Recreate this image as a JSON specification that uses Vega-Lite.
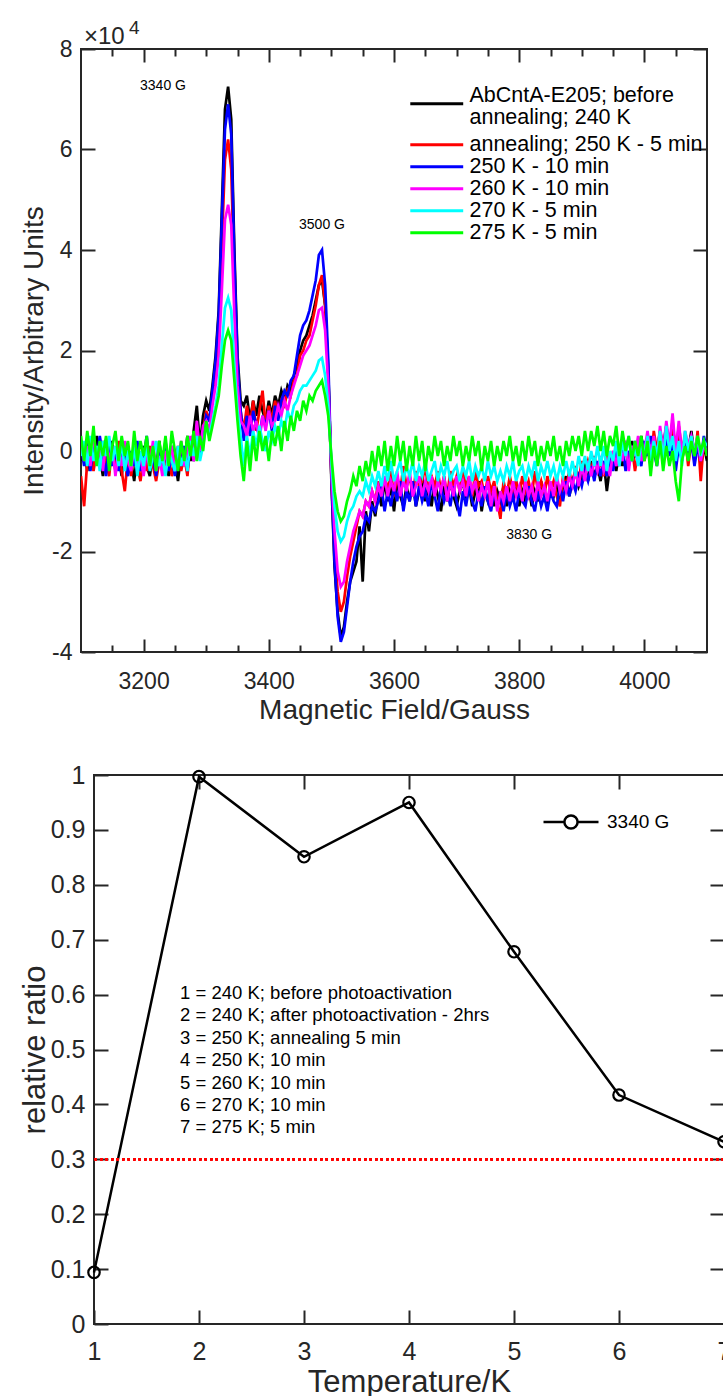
{
"$schema": "https://vega.github.io/schema/vega-lite/v6.json",
"padding": {"left": 18, "top": 18, "right": 0, "bottom": 0},
"spacing": 123,
"bounds": "flush",
"resolve": {"scale": {"color": "independent"}, "legend": {"color": "independent"}},
"config": {
 "font": "Liberation Sans",
 "view": {"stroke": "#262626", "strokeWidth": 2},
 "axis": {"grid": false, "domain": false, "tickColor": "#262626", "tickWidth": 2, "labelColor": "#262626", "labelFontSize": 23, "titleFontSize": 28, "titleFontWeight": "normal", "titleColor": "#262626", "labelFlush": false, "labelOverlap": false},
 "legend": {"labelColor": "#000000", "labelFont": "Liberation Sans"}
},
"datasets": {
 "epr": [
{"x":3100,"k":-0.2,"r":-0.5,"b":0.1,"m":0.2,"c":-0.1,"g":0.3},
{"x":3105,"k":0.1,"r":-1.1,"b":-0.3,"m":-0.2,"c":0.2,"g":-0.2},
{"x":3110,"k":-0.4,"r":-0.2,"b":0.2,"m":0.1,"c":-0.3,"g":0.4},
{"x":3115,"k":0.2,"r":0.1,"b":-0.4,"m":-0.3,"c":0.3,"g":-0.1},
{"x":3120,"k":-0.3,"r":-0.4,"b":0.1,"m":0.3,"c":-0.2,"g":0.5},
{"x":3125,"k":0.3,"r":0.0,"b":-0.2,"m":-0.1,"c":0.1,"g":-0.3},
{"x":3130,"k":-0.1,"r":-0.3,"b":0.3,"m":0.0,"c":-0.4,"g":0.2},
{"x":3135,"k":-0.5,"r":0.2,"b":-0.1,"m":-0.4,"c":0.2,"g":-0.1},
{"x":3140,"k":0.0,"r":-0.2,"b":-0.5,"m":0.2,"c":-0.1,"g":0.3},
{"x":3145,"k":-0.3,"r":-0.5,"b":0.2,"m":-0.2,"c":0.3,"g":-0.4},
{"x":3150,"k":0.2,"r":0.1,"b":-0.3,"m":0.1,"c":-0.2,"g":0.1},
{"x":3155,"k":-0.4,"r":-0.3,"b":0.0,"m":-0.5,"c":0.1,"g":0.4},
{"x":3160,"k":-0.1,"r":0.2,"b":-0.4,"m":0.0,"c":-0.3,"g":-0.2},
{"x":3165,"k":-0.5,"r":-0.4,"b":0.1,"m":-0.3,"c":0.2,"g":0.3},
{"x":3170,"k":0.1,"r":-0.8,"b":-0.2,"m":0.2,"c":-0.4,"g":-0.1},
{"x":3175,"k":-0.3,"r":-0.1,"b":-0.5,"m":-0.2,"c":0.0,"g":0.2},
{"x":3180,"k":-0.2,"r":-0.5,"b":0.0,"m":-0.4,"c":-0.3,"g":-0.3},
{"x":3185,"k":-0.6,"r":0.0,"b":-0.3,"m":0.1,"c":0.1,"g":0.4},
{"x":3190,"k":0.0,"r":-0.3,"b":0.2,"m":-0.3,"c":-0.5,"g":-0.2},
{"x":3195,"k":-0.4,"r":-0.6,"b":-0.4,"m":-0.1,"c":0.0,"g":0.2},
{"x":3200,"k":0.1,"r":-0.1,"b":-0.1,"m":-0.5,"c":-0.3,"g":-0.1},
{"x":3205,"k":-0.3,"r":-0.4,"b":0.3,"m":0.0,"c":0.1,"g":0.3},
{"x":3210,"k":-0.5,"r":0.1,"b":-0.3,"m":-0.3,"c":-0.4,"g":-0.3},
{"x":3215,"k":0.0,"r":-0.3,"b":-0.1,"m":0.2,"c":-0.1,"g":0.1},
{"x":3220,"k":-0.3,"r":-0.6,"b":-0.5,"m":-0.4,"c":0.2,"g":-0.4},
{"x":3225,"k":0.2,"r":-0.2,"b":0.0,"m":-0.1,"c":-0.3,"g":0.2},
{"x":3230,"k":-0.4,"r":0.0,"b":-0.3,"m":-0.5,"c":-0.1,"g":-0.2},
{"x":3235,"k":-0.1,"r":-0.4,"b":0.2,"m":0.0,"c":-0.5,"g":0.3},
{"x":3240,"k":-0.5,"r":-0.1,"b":-0.4,"m":-0.3,"c":0.0,"g":-0.3},
{"x":3245,"k":0.1,"r":-0.5,"b":-0.1,"m":0.1,"c":-0.2,"g":0.4},
{"x":3250,"k":-0.2,"r":-0.2,"b":-0.5,"m":-0.4,"c":-0.4,"g":0.0},
{"x":3255,"k":-0.6,"r":0.1,"b":0.0,"m":-0.1,"c":0.1,"g":-0.4},
{"x":3260,"k":0.0,"r":-0.4,"b":-0.3,"m":0.2,"c":-0.3,"g":0.2},
{"x":3265,"k":-0.3,"r":-0.1,"b":0.1,"m":-0.3,"c":0.0,"g":-0.2},
{"x":3270,"k":0.3,"r":-0.5,"b":-0.4,"m":0.0,"c":-0.4,"g":0.3},
{"x":3275,"k":-0.2,"r":0.2,"b":0.2,"m":0.3,"c":0.2,"g":-0.1},
{"x":3280,"k":0.4,"r":-0.2,"b":-0.2,"m":-0.2,"c":-0.1,"g":0.4},
{"x":3285,"k":0.9,"r":0.3,"b":0.5,"m":0.6,"c":0.3,"g":-0.2},
{"x":3290,"k":0.1,"r":-0.1,"b":-0.1,"m":0.0,"c":-0.2,"g":0.3},
{"x":3295,"k":0.7,"r":0.4,"b":0.3,"m":0.5,"c":0.1,"g":0.0},
{"x":3300,"k":1.0,"r":0.8,"b":0.7,"m":0.6,"c":0.5,"g":0.6},
{"x":3305,"k":0.8,"r":0.6,"b":0.6,"m":0.4,"c":0.3,"g":0.2},
{"x":3310,"k":1.3,"r":1.1,"b":1.2,"m":0.9,"c":0.6,"g":0.5},
{"x":3315,"k":1.9,"r":1.6,"b":1.8,"m":1.3,"c":0.9,"g":0.8},
{"x":3320,"k":2.8,"r":2.4,"b":2.7,"m":1.9,"c":1.3,"g":1.1},
{"x":3325,"k":4.8,"r":4.1,"b":4.6,"m":3.2,"c":2.1,"g":1.7},
{"x":3330,"k":6.8,"r":5.8,"b":6.4,"m":4.6,"c":2.85,"g":2.2},
{"x":3335,"k":7.25,"r":6.2,"b":6.9,"m":4.9,"c":3.05,"g":2.4},
{"x":3340,"k":6.6,"r":5.6,"b":6.3,"m":4.5,"c":2.8,"g":2.2},
{"x":3345,"k":4.0,"r":3.4,"b":3.8,"m":2.7,"c":1.7,"g":1.4},
{"x":3350,"k":1.9,"r":1.6,"b":1.8,"m":1.3,"c":0.8,"g":0.6},
{"x":3355,"k":1.0,"r":0.8,"b":0.8,"m":0.6,"c":0.3,"g":-0.1},
{"x":3360,"k":0.9,"r":0.4,"b":0.2,"m":0.5,"c":-0.3,"g":-0.6},
{"x":3365,"k":1.1,"r":0.9,"b":0.7,"m":0.3,"c":0.3,"g":0.2},
{"x":3370,"k":0.6,"r":0.5,"b":0.3,"m":0.7,"c":-0.1,"g":-0.4},
{"x":3375,"k":1.0,"r":1.0,"b":0.8,"m":0.4,"c":0.4,"g":0.3},
{"x":3380,"k":0.7,"r":0.4,"b":0.5,"m":0.6,"c":0.1,"g":-0.2},
{"x":3385,"k":1.1,"r":0.8,"b":0.3,"m":0.2,"c":0.5,"g":0.4},
{"x":3390,"k":0.8,"r":1.2,"b":0.7,"m":0.7,"c":0.2,"g":0.0},
{"x":3395,"k":0.6,"r":0.5,"b":0.5,"m":0.4,"c":0.0,"g":0.3},
{"x":3400,"k":1.0,"r":0.9,"b":0.8,"m":0.8,"c":0.4,"g":-0.2},
{"x":3405,"k":0.7,"r":0.6,"b":0.4,"m":0.5,"c":0.2,"g":0.4},
{"x":3410,"k":1.1,"r":1.0,"b":0.9,"m":0.6,"c":0.5,"g":0.1},
{"x":3415,"k":0.9,"r":0.7,"b":0.6,"m":0.9,"c":0.3,"g":0.5},
{"x":3420,"k":1.2,"r":1.0,"b":1.0,"m":0.7,"c":0.6,"g":0.0},
{"x":3425,"k":1.0,"r":0.9,"b":1.2,"m":1.0,"c":0.4,"g":0.6},
{"x":3430,"k":1.3,"r":1.2,"b":1.1,"m":0.8,"c":0.8,"g":0.2},
{"x":3435,"k":1.2,"r":1.1,"b":1.4,"m":1.1,"c":0.6,"g":0.7},
{"x":3440,"k":1.5,"r":1.4,"b":1.5,"m":1.3,"c":0.9,"g":0.4},
{"x":3445,"k":1.7,"r":1.5,"b":1.9,"m":1.5,"c":1.0,"g":0.8},
{"x":3450,"k":2.0,"r":1.9,"b":2.3,"m":1.7,"c":1.2,"g":0.6},
{"x":3455,"k":2.2,"r":2.0,"b":2.5,"m":1.9,"c":1.3,"g":1.0},
{"x":3460,"k":2.3,"r":2.2,"b":2.6,"m":2.0,"c":1.3,"g":0.8},
{"x":3465,"k":2.5,"r":2.3,"b":2.8,"m":2.1,"c":1.4,"g":1.1},
{"x":3470,"k":2.7,"r":2.6,"b":3.1,"m":2.3,"c":1.5,"g":1.0},
{"x":3475,"k":3.0,"r":2.9,"b":3.4,"m":2.5,"c":1.6,"g":1.2},
{"x":3480,"k":3.3,"r":3.3,"b":3.9,"m":2.8,"c":1.8,"g":1.3},
{"x":3485,"k":3.4,"r":3.5,"b":4.0,"m":2.85,"c":1.85,"g":1.4},
{"x":3490,"k":2.9,"r":2.9,"b":3.3,"m":2.4,"c":1.5,"g":1.1},
{"x":3495,"k":1.6,"r":1.5,"b":1.8,"m":1.3,"c":0.9,"g":0.7},
{"x":3500,"k":-0.6,"r":-0.5,"b":-0.5,"m":-0.4,"c":-0.2,"g":-0.1},
{"x":3505,"k":-2.3,"r":-2.0,"b":-2.2,"m":-1.6,"c":-1.1,"g":-0.8},
{"x":3510,"k":-3.2,"r":-2.8,"b":-3.3,"m":-2.4,"c":-1.6,"g":-1.2},
{"x":3515,"k":-3.7,"r":-3.2,"b":-3.8,"m":-2.7,"c":-1.8,"g":-1.4},
{"x":3520,"k":-3.5,"r":-3.0,"b":-3.6,"m":-2.6,"c":-1.7,"g":-1.3},
{"x":3525,"k":-3.0,"r":-2.5,"b":-3.1,"m":-2.2,"c":-1.4,"g":-1.0},
{"x":3530,"k":-2.6,"r":-2.1,"b":-2.6,"m":-1.9,"c":-1.2,"g":-0.8},
{"x":3535,"k":-2.4,"r":-1.8,"b":-2.2,"m":-1.6,"c":-1.1,"g":-0.5},
{"x":3540,"k":-2.2,"r":-1.5,"b":-1.9,"m":-1.4,"c":-0.9,"g":-0.7},
{"x":3545,"k":-1.5,"r":-1.2,"b":-1.7,"m":-1.2,"c":-0.8,"g":-0.3},
{"x":3550,"k":-2.6,"r":-1.3,"b":-1.6,"m":-1.3,"c":-0.9,"g":-0.6},
{"x":3555,"k":-1.2,"r":-1.0,"b":-1.3,"m":-1.0,"c":-0.6,"g":-0.2},
{"x":3560,"k":-1.6,"r":-1.1,"b":-1.4,"m":-1.1,"c":-0.8,"g":-0.5},
{"x":3565,"k":-1.0,"r":-0.8,"b":-1.1,"m":-0.8,"c":-0.5,"g":0.0},
{"x":3570,"k":-1.3,"r":-1.0,"b":-1.2,"m":-1.0,"c":-0.7,"g":-0.4},
{"x":3575,"k":-0.8,"r":-0.6,"b":-1.0,"m":-0.7,"c":-0.4,"g":0.1},
{"x":3580,"k":-1.1,"r":-0.9,"b":-0.7,"m":-0.9,"c":-0.7,"g":-0.3},
{"x":3585,"k":-0.6,"r":-0.5,"b":-1.2,"m":-0.5,"c":-0.3,"g":0.2},
{"x":3590,"k":-1.0,"r":-0.8,"b":-0.8,"m":-0.9,"c":-0.6,"g":-0.4},
{"x":3595,"k":-0.7,"r":-0.4,"b":-1.1,"m":-0.6,"c":-0.2,"g":0.1},
{"x":3600,"k":-1.2,"r":-0.9,"b":-0.7,"m":-0.8,"c":-0.6,"g":-0.3},
{"x":3605,"k":-0.6,"r":-0.5,"b":-1.0,"m":-0.4,"c":-0.4,"g":0.3},
{"x":3610,"k":-0.9,"r":-0.8,"b":-0.6,"m":-0.9,"c":-0.2,"g":-0.2},
{"x":3615,"k":-1.1,"r":-0.3,"b":-1.2,"m":-0.6,"c":-0.6,"g":0.2},
{"x":3620,"k":-0.7,"r":-0.7,"b":-0.8,"m":-0.8,"c":-0.3,"g":-0.4},
{"x":3625,"k":-1.0,"r":-0.5,"b":-1.0,"m":-0.4,"c":-0.5,"g":0.1},
{"x":3630,"k":-0.6,"r":-0.9,"b":-0.6,"m":-0.9,"c":-0.2,"g":-0.3},
{"x":3635,"k":-1.1,"r":-0.4,"b":-1.1,"m":-0.7,"c":-0.6,"g":0.3},
{"x":3640,"k":-0.8,"r":-0.7,"b":-0.7,"m":-0.5,"c":-0.3,"g":-0.2},
{"x":3645,"k":-0.5,"r":-0.6,"b":-1.0,"m":-0.9,"c":-0.5,"g":0.2},
{"x":3650,"k":-1.0,"r":-0.3,"b":-0.8,"m":-0.6,"c":-0.2,"g":-0.4},
{"x":3655,"k":-0.7,"r":-0.8,"b":-1.1,"m":-0.8,"c":-0.6,"g":0.1},
{"x":3660,"k":-1.1,"r":-0.5,"b":-0.6,"m":-0.5,"c":-0.4,"g":-0.2},
{"x":3665,"k":-0.6,"r":-0.7,"b":-0.9,"m":-0.9,"c":-0.2,"g":0.3},
{"x":3670,"k":-0.9,"r":-0.4,"b":-1.2,"m":-0.6,"c":-0.6,"g":-0.1},
{"x":3675,"k":-1.2,"r":-0.8,"b":-0.7,"m":-0.8,"c":-0.3,"g":0.2},
{"x":3680,"k":-0.7,"r":-0.5,"b":-1.0,"m":-0.5,"c":-0.5,"g":-0.3},
{"x":3685,"k":-1.0,"r":-0.9,"b":-0.8,"m":-1.0,"c":-0.2,"g":0.1},
{"x":3690,"k":-0.6,"r":-0.4,"b":-1.1,"m":-0.6,"c":-0.6,"g":-0.2},
{"x":3695,"k":-0.9,"r":-0.7,"b":-0.7,"m":-0.9,"c":-0.4,"g":0.3},
{"x":3700,"k":-1.1,"r":-0.5,"b":-1.0,"m":-0.5,"c":-0.3,"g":-0.1},
{"x":3705,"k":-0.8,"r":-0.8,"b":-1.3,"m":-0.8,"c":-0.6,"g":0.2},
{"x":3710,"k":-0.6,"r":-0.4,"b":-0.8,"m":-0.6,"c":-0.3,"g":-0.3},
{"x":3715,"k":-1.0,"r":-0.7,"b":-1.1,"m":-0.9,"c":-0.5,"g":0.1},
{"x":3720,"k":-0.7,"r":-0.5,"b":-0.7,"m":-0.5,"c":-0.2,"g":-0.2},
{"x":3725,"k":-1.1,"r":-0.9,"b":-1.0,"m":-0.8,"c":-0.6,"g":0.3},
{"x":3730,"k":-0.8,"r":-0.4,"b":-1.2,"m":-0.6,"c":-0.3,"g":-0.1},
{"x":3735,"k":-0.6,"r":-0.7,"b":-0.8,"m":-1.0,"c":-0.5,"g":0.2},
{"x":3740,"k":-1.2,"r":-0.6,"b":-1.1,"m":-0.7,"c":-0.3,"g":-0.4},
{"x":3745,"k":-0.8,"r":-0.9,"b":-0.7,"m":-0.9,"c":-0.6,"g":0.1},
{"x":3750,"k":-1.0,"r":-0.5,"b":-1.0,"m":-0.6,"c":-0.2,"g":-0.2},
{"x":3755,"k":-0.7,"r":-0.8,"b":-1.2,"m":-1.1,"c":-0.5,"g":0.2},
{"x":3760,"k":-1.1,"r":-0.6,"b":-0.8,"m":-0.7,"c":-0.3,"g":-0.3},
{"x":3765,"k":-0.8,"r":-1.0,"b":-1.1,"m":-1.2,"c":-0.6,"g":0.1},
{"x":3770,"k":-1.0,"r":-1.35,"b":-0.9,"m":-0.8,"c":-0.4,"g":-0.2},
{"x":3775,"k":-0.7,"r":-0.6,"b":-1.2,"m":-1.0,"c":-0.6,"g":0.2},
{"x":3780,"k":-1.1,"r":-0.9,"b":-0.8,"m":-0.7,"c":-0.3,"g":-0.1},
{"x":3785,"k":-0.8,"r":-0.5,"b":-1.1,"m":-1.0,"c":-0.5,"g":0.3},
{"x":3790,"k":-1.0,"r":-0.8,"b":-0.9,"m":-0.6,"c":-0.2,"g":-0.2},
{"x":3795,"k":-0.6,"r":-0.6,"b":-1.2,"m":-0.9,"c":-0.6,"g":0.1},
{"x":3800,"k":-1.1,"r":-0.9,"b":-0.8,"m":-0.7,"c":-0.4,"g":-0.3},
{"x":3805,"k":-0.8,"r":-0.5,"b":-1.0,"m":-1.0,"c":-0.3,"g":0.2},
{"x":3810,"k":-1.0,"r":-0.8,"b":-1.1,"m":-0.6,"c":-0.6,"g":-0.2},
{"x":3815,"k":-0.7,"r":-0.6,"b":-0.7,"m":-0.9,"c":-0.3,"g":0.3},
{"x":3820,"k":-1.1,"r":-0.9,"b":-1.0,"m":-0.7,"c":-0.5,"g":-0.1},
{"x":3825,"k":-0.8,"r":-0.4,"b":-1.2,"m":-1.0,"c":-0.2,"g":0.2},
{"x":3830,"k":-1.0,"r":-0.8,"b":-0.8,"m":-0.6,"c":-0.6,"g":-0.3},
{"x":3835,"k":-0.6,"r":-0.6,"b":-1.1,"m":-0.9,"c":-0.3,"g":0.1},
{"x":3840,"k":-0.9,"r":-0.9,"b":-0.9,"m":-0.7,"c":-0.5,"g":-0.2},
{"x":3845,"k":-1.1,"r":-0.5,"b":-1.2,"m":-1.0,"c":-0.2,"g":0.2},
{"x":3850,"k":-0.7,"r":-0.8,"b":-0.8,"m":-0.6,"c":-0.5,"g":-0.1},
{"x":3855,"k":-0.9,"r":-0.6,"b":-1.0,"m":-0.9,"c":-0.3,"g":0.3},
{"x":3860,"k":-0.6,"r":-0.9,"b":-1.1,"m":-0.5,"c":-0.6,"g":-0.2},
{"x":3865,"k":-1.0,"r":-1.1,"b":-0.7,"m":-0.8,"c":-0.3,"g":0.1},
{"x":3870,"k":-0.7,"r":-0.5,"b":-1.0,"m":-0.6,"c":-0.5,"g":-0.3},
{"x":3875,"k":-0.5,"r":-0.7,"b":-0.6,"m":-0.8,"c":-0.2,"g":0.2},
{"x":3880,"k":-0.9,"r":-0.4,"b":-0.9,"m":-0.5,"c":-0.5,"g":-0.1},
{"x":3885,"k":-0.6,"r":-0.7,"b":-0.6,"m":-0.7,"c":-0.2,"g":0.3},
{"x":3890,"k":-0.4,"r":-0.3,"b":-0.8,"m":-0.4,"c":-0.5,"g":0.0},
{"x":3895,"k":-0.7,"r":-0.6,"b":-0.5,"m":-0.7,"c":-0.1,"g":0.3},
{"x":3900,"k":-0.5,"r":-0.2,"b":-0.7,"m":-0.3,"c":-0.4,"g":-0.1},
{"x":3905,"k":-0.3,"r":-0.5,"b":-0.4,"m":-0.6,"c":-0.1,"g":0.4},
{"x":3910,"k":-0.6,"r":-0.2,"b":-0.6,"m":-0.2,"c":-0.4,"g":0.0},
{"x":3915,"k":-0.2,"r":-0.4,"b":-0.3,"m":-0.5,"c":0.0,"g":0.4},
{"x":3920,"k":-0.5,"r":-0.1,"b":-0.6,"m":-0.2,"c":-0.3,"g":0.1},
{"x":3925,"k":-0.3,"r":-0.4,"b":-0.2,"m":-0.4,"c":0.1,"g":0.5},
{"x":3930,"k":-0.6,"r":-0.2,"b":-0.5,"m":-0.1,"c":-0.3,"g":0.0},
{"x":3935,"k":-0.2,"r":-0.5,"b":-0.2,"m":-0.4,"c":0.1,"g":0.4},
{"x":3940,"k":-0.8,"r":-0.1,"b":-0.5,"m":-0.2,"c":-0.4,"g":-0.1},
{"x":3945,"k":-0.3,"r":-0.3,"b":-0.1,"m":-0.5,"c":0.0,"g":0.3},
{"x":3950,"k":-0.1,"r":0.0,"b":-0.4,"m":0.0,"c":-0.2,"g":0.1},
{"x":3955,"k":-0.4,"r":-0.3,"b":0.0,"m":-0.3,"c":0.2,"g":0.5},
{"x":3960,"k":0.0,"r":0.1,"b":-0.3,"m":0.1,"c":-0.3,"g":-0.1},
{"x":3965,"k":-0.3,"r":-0.2,"b":0.1,"m":-0.2,"c":0.2,"g":0.4},
{"x":3970,"k":0.1,"r":0.2,"b":-0.4,"m":0.2,"c":-0.1,"g":0.0},
{"x":3975,"k":-0.2,"r":-0.3,"b":0.0,"m":-0.4,"c":0.3,"g":0.3},
{"x":3980,"k":0.2,"r":0.1,"b":-0.2,"m":0.1,"c":-0.2,"g":-0.2},
{"x":3985,"k":-0.1,"r":-0.4,"b":0.2,"m":-0.1,"c":0.1,"g":0.2},
{"x":3990,"k":0.0,"r":0.0,"b":-0.1,"m":0.3,"c":-0.3,"g":-0.1},
{"x":3995,"k":0.3,"r":0.2,"b":-0.3,"m":-0.2,"c":0.2,"g":0.3},
{"x":4000,"k":-0.1,"r":-0.2,"b":0.2,"m":0.0,"c":-0.1,"g":-0.2},
{"x":4005,"k":0.2,"r":0.1,"b":-0.1,"m":0.4,"c":0.3,"g":0.2},
{"x":4010,"k":-0.2,"r":-0.3,"b":0.3,"m":-0.1,"c":-0.2,"g":-0.5},
{"x":4015,"k":0.3,"r":0.4,"b":0.0,"m":0.3,"c":0.2,"g":0.1},
{"x":4020,"k":0.0,"r":0.0,"b":-0.3,"m":-0.2,"c":-0.1,"g":-0.3},
{"x":4025,"k":0.4,"r":0.3,"b":0.2,"m":0.5,"c":0.4,"g":0.2},
{"x":4030,"k":0.1,"r":-0.2,"b":-0.2,"m":0.0,"c":-0.2,"g":-0.4},
{"x":4035,"k":0.5,"r":0.4,"b":0.3,"m":0.6,"c":0.5,"g":0.1},
{"x":4040,"k":0.0,"r":0.1,"b":-0.1,"m":0.1,"c":0.0,"g":-0.3},
{"x":4045,"k":0.4,"r":0.6,"b":0.2,"m":0.75,"c":0.3,"g":0.0},
{"x":4050,"k":-0.1,"r":-0.1,"b":-0.4,"m":0.0,"c":-0.2,"g":-0.6},
{"x":4055,"k":0.3,"r":0.5,"b":0.1,"m":0.6,"c":0.2,"g":-1.0},
{"x":4060,"k":-0.2,"r":0.0,"b":-0.2,"m":-0.1,"c":-0.3,"g":-0.2},
{"x":4065,"k":0.2,"r":0.3,"b":0.3,"m":0.4,"c":0.4,"g":0.1},
{"x":4070,"k":0.0,"r":-0.3,"b":-0.1,"m":0.1,"c":0.0,"g":-0.2},
{"x":4075,"k":0.4,"r":0.2,"b":0.2,"m":0.3,"c":0.3,"g":0.2},
{"x":4080,"k":-0.1,"r":-0.2,"b":-0.3,"m":0.0,"c":-0.1,"g":-0.1},
{"x":4085,"k":0.2,"r":0.4,"b":0.1,"m":0.2,"c":0.3,"g":0.3},
{"x":4090,"k":-0.3,"r":-0.6,"b":-0.2,"m":-0.2,"c":-0.1,"g":0.0},
{"x":4095,"k":0.1,"r":0.2,"b":0.3,"m":0.1,"c":0.2,"g":0.2},
{"x":4100,"k":-0.2,"r":-0.1,"b":0.0,"m":0.0,"c":0.1,"g":-0.1}
 ],
 "peaks": [
  {"field": 3231, "amp": 7.26, "label": "3340 G"},
  {"field": 3485, "amp": 4.5, "label": "3500 G"},
  {"field": 3816, "amp": -1.67, "label": "3830 G"}
 ],
 "ratio": [
  {"step": 1, "ratio": 0.094},
  {"step": 2, "ratio": 0.997},
  {"step": 3, "ratio": 0.851},
  {"step": 4, "ratio": 0.950},
  {"step": 5, "ratio": 0.678},
  {"step": 6, "ratio": 0.417},
  {"step": 7, "ratio": 0.332}
 ],
 "notes": [
  {"lines": ["1 = 240 K; before photoactivation", "2 = 240 K; after photoactivation - 2hrs", "3 = 250 K; annealing 5 min", "4 = 250 K; 10 min", "5 = 260 K; 10 min", "6 = 270 K; 10 min", "7 = 275 K; 5 min"]}
 ],
 "scale": [{"base": "×10", "exp": "4"}]
},
"vconcat": [
 {
  "width": 626,
  "height": 603,
  "resolve": {"axis": {"x": "independent", "y": "independent"}, "scale": {"color": "independent"}, "legend": {"color": "independent"}},
  "layer": [
   {
    "data": {"name": "epr"},
    "transform": [{"fold": ["k"], "as": ["series", "intensity"]}],
    "mark": {"type": "line", "strokeWidth": 2.7, "clip": true},
    "encoding": {
     "x": {"field": "x", "type": "quantitative", "scale": {"domain": [3100, 4100], "nice": false, "zero": false},
       "axis": {"orient": "bottom", "values": [3200, 3400, 3600, 3800, 4000], "format": "d", "tickSize": -13, "labelPadding": 31, "title": "Magnetic Field/Gauss", "titlePadding": 3}},
     "y": {"field": "intensity", "type": "quantitative", "scale": {"domain": [-4, 8], "nice": false, "zero": false},
       "axis": {"orient": "left", "values": [-4, -2, 0, 2, 4, 6, 8], "tickSize": -14, "labelPadding": 23, "labelExpr": "datum.value < 0 ? '-' + abs(datum.value) : '' + datum.value", "title": "Intensity/Arbitrary Units", "titleX": -47, "titleBaseline": "middle"}},
     "color": {"field": "series", "type": "nominal",
       "scale": {"domain": ["k"], "range": ["#000000"]},
       "legend": {"orient": "none", "legendX": 345, "legendY": 44, "title": null, "padding": 0, "symbolType": "M-5,0L5,0", "symbolSize": 112, "symbolStrokeWidth": 3, "symbolFillColor": "transparent", "labelFontSize": 21.5, "labelLimit": 400, "labelOffset": 22,
         "labelExpr": "['AbCntA-E205; before', 'annealing; 240 K']",
         "encode": {"labels": {"update": {"lineHeight": {"value": 22}, "dy": {"value": -8}}}}}}
    }
   },
   {
    "data": {"name": "epr"},
    "transform": [{"fold": ["r", "b", "m", "c", "g"], "as": ["series", "intensity"]}],
    "mark": {"type": "line", "strokeWidth": 2.7, "clip": true},
    "encoding": {
     "x": {"field": "x", "type": "quantitative", "axis": null},
     "y": {"field": "intensity", "type": "quantitative", "axis": null},
     "color": {"field": "series", "type": "nominal",
       "scale": {"domain": ["r", "b", "m", "c", "g"], "range": ["#ff0000", "#0000ff", "#ff00ff", "#00ffff", "#00ff00"]},
       "legend": {"orient": "none", "legendX": 345, "legendY": 85, "title": null, "padding": 0, "symbolType": "M-5,0L5,0", "symbolSize": 112, "symbolStrokeWidth": 3, "symbolFillColor": "transparent", "labelFontSize": 21.5, "labelLimit": 400, "labelOffset": 22, "rowPadding": -1,
         "labelExpr": "datum.value == 'r' ? 'annealing; 250 K - 5 min' : datum.value == 'b' ? '250 K - 10 min' : datum.value == 'm' ? '260 K - 10 min' : datum.value == 'c' ? '270 K - 5 min' : '275 K - 5 min'"}}
    }
   },
   {
    "data": {"name": "peaks"},
    "mark": {"type": "text", "fontSize": 14, "color": "#000000", "align": "center", "baseline": "middle"},
    "encoding": {
     "x": {"field": "field", "type": "quantitative", "axis": {"orient": "top", "values": [3200, 3400, 3600, 3800, 4000], "tickSize": -13, "labels": false, "title": null}},
     "y": {"field": "amp", "type": "quantitative", "axis": {"orient": "right", "values": [-4, -2, 0, 2, 4, 6, 8], "tickSize": -14, "labels": false, "title": null}},
     "text": {"field": "label"}
    }
   },
   {
    "data": {"name": "peaks"},
    "mark": {"type": "point", "opacity": 0},
    "encoding": {
     "x": {"field": "field", "type": "quantitative", "axis": {"orient": "bottom", "values": [3150, 3250, 3300, 3350, 3450, 3500, 3550, 3650, 3700, 3750, 3850, 3900, 3950, 4050], "tickSize": -7, "labels": false, "title": null}},
     "y": {"field": "amp", "type": "quantitative", "axis": null}
    }
   },
   {
    "data": {"name": "peaks"},
    "mark": {"type": "point", "opacity": 0},
    "encoding": {
     "x": {"field": "field", "type": "quantitative", "axis": {"orient": "top", "values": [3150, 3250, 3300, 3350, 3450, 3500, 3550, 3650, 3700, 3750, 3850, 3900, 3950, 4050], "tickSize": -7, "labels": false, "title": null}},
     "y": {"field": "amp", "type": "quantitative", "axis": null}
    }
   },
   {
    "data": {"name": "scale"},
    "mark": {"type": "text", "fontSize": 24, "color": "#262626", "align": "left", "baseline": "alphabetic", "dx": 3, "dy": -5},
    "encoding": {
     "x": {"datum": 3100, "type": "quantitative", "axis": null},
     "y": {"datum": 8, "type": "quantitative", "axis": null},
     "text": {"field": "base"}
    }
   },
   {
    "data": {"name": "scale"},
    "mark": {"type": "text", "fontSize": 19, "color": "#262626", "align": "left", "baseline": "alphabetic", "dx": 48, "dy": -15},
    "encoding": {
     "x": {"datum": 3100, "type": "quantitative", "axis": null},
     "y": {"datum": 8, "type": "quantitative", "axis": null},
     "text": {"field": "exp"}
    }
   }
  ]
 },
 {
  "spacing": 12,
  "bounds": "flush",
  "hconcat": [
   {
    "width": 1,
    "height": 549,
    "view": {"stroke": null},
    "data": {"name": "ratio"},
    "mark": {"type": "point", "opacity": 0},
    "encoding": {}
   },
   {
    "width": 630,
    "height": 549,
    "resolve": {"axis": {"x": "independent", "y": "independent"}},
    "layer": [
     {
      "data": {"name": "ratio"},
      "mark": {"type": "line", "strokeWidth": 2.5, "clip": false, "point": {"filled": false, "size": 130, "strokeWidth": 2.2}},
      "encoding": {
       "x": {"field": "step", "type": "quantitative", "scale": {"domain": [1, 7], "nice": false, "zero": false},
         "axis": {"orient": "bottom", "values": [1, 2, 3, 4, 5, 6, 7], "tickSize": -14, "labelPadding": 29, "labelFontSize": 25, "title": "Temperature/K", "titleFontSize": 31, "titlePadding": 3}},
       "y": {"field": "ratio", "type": "quantitative", "scale": {"domain": [0, 1], "nice": false},
         "axis": {"orient": "left", "values": [0, 0.1, 0.2, 0.3, 0.4, 0.5, 0.6, 0.7, 0.8, 0.9, 1], "format": "~g", "tickSize": -14, "labelPadding": 23, "labelFontSize": 25, "title": "relative ratio", "titleFontSize": 31, "titleX": -58.5, "titleBaseline": "middle"}},
       "color": {"datum": "3340 G", "type": "nominal", "scale": {"domain": ["3340 G"], "range": ["#000000"]},
         "legend": {"orient": "none", "legendX": 461, "legendY": 18, "title": null, "padding": 0, "symbolType": "M-1,0L-0.24,0M0.24,0L1,0M-0.24,0A0.24,0.24,0,1,1,0.24,0A0.24,0.24,0,1,1,-0.24,0", "symbolSize": 3025, "symbolStrokeWidth": 2.5, "symbolFillColor": "transparent", "symbolStrokeColor": "#000000", "labelFontSize": 19, "labelOffset": 7}}
      }
     },
     {
      "data": {"name": "ratio"},
      "mark": {"type": "rule", "color": "#ff0000", "strokeWidth": 2.5, "strokeDash": [2.5, 3]},
      "encoding": {
       "y": {"datum": 0.3, "type": "quantitative", "axis": {"orient": "right", "values": [0.1, 0.2, 0.3, 0.4, 0.5, 0.6, 0.7, 0.8, 0.9], "tickSize": -14, "labels": false, "title": null}}
      }
     },
     {
      "data": {"name": "notes"},
      "mark": {"type": "text", "align": "left", "baseline": "middle", "fontSize": 18.5, "lineHeight": 22.4, "color": "#000000"},
      "encoding": {
       "x": {"datum": 1.82, "type": "quantitative", "axis": {"orient": "top", "values": [2, 3, 4, 5, 6], "tickSize": -14, "labels": false, "title": null}},
       "y": {"datum": 0.603, "type": "quantitative", "axis": null},
       "text": {"field": "lines"}
      }
     }
    ]
   }
  ]
 }
]
}
